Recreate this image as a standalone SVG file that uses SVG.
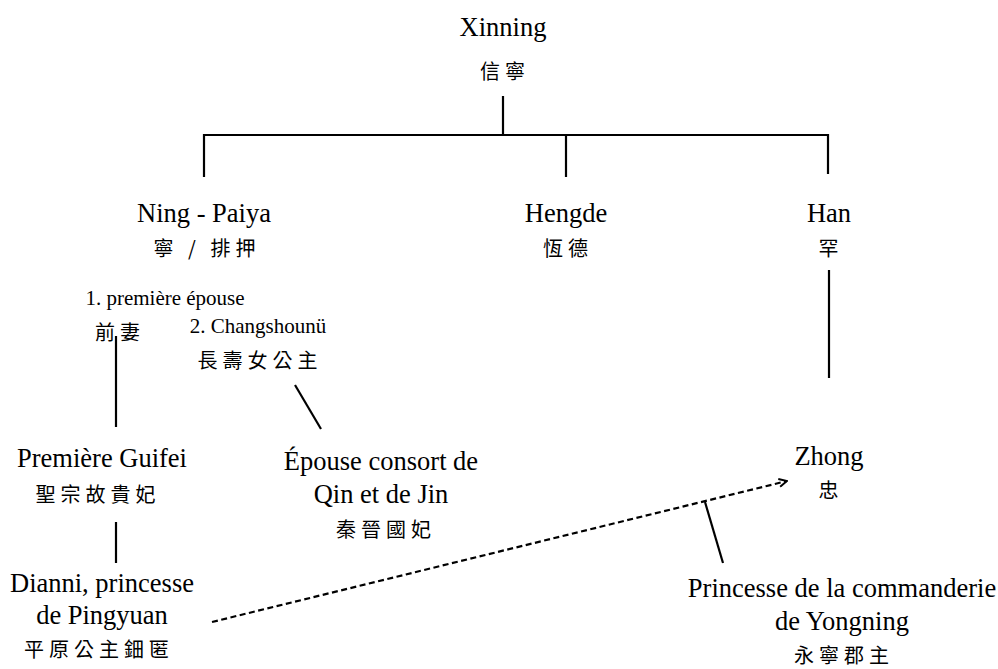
<svg xmlns="http://www.w3.org/2000/svg" width="998" height="669" viewBox="0 0 998 669">
<style>
.l{font-family:"Liberation Serif","Times New Roman",serif;font-size:26.5px;fill:#000;text-anchor:middle}
.s{font-family:"Liberation Serif","Times New Roman",serif;font-size:21px;fill:#000;text-anchor:middle}
.c{font-family:"Noto Sans CJK TC","Noto Sans CJK SC",sans-serif;font-size:20px;fill:#000;text-anchor:middle;letter-spacing:5px}
.ln{stroke:#000;stroke-width:2.2;fill:none}
.dash{stroke:#000;stroke-width:2.2;fill:none;stroke-dasharray:6,3.5}
</style>
<defs>
<marker id="arr" viewBox="0 0 10 10" refX="9" refY="5" markerWidth="10" markerHeight="10" markerUnits="userSpaceOnUse" orient="auto">
<path d="M1,1 L9,5 L1,9" fill="none" stroke="#000" stroke-width="2"/>
</marker>
</defs>
<rect width="998" height="669" fill="#fff"/>
<g id="connectors">
<line class="ln" x1="503" y1="96" x2="503" y2="135"/>
<line class="ln" x1="203" y1="135" x2="829" y2="135"/>
<line class="ln" x1="204" y1="134" x2="204" y2="177"/>
<line class="ln" x1="566" y1="134" x2="566" y2="177"/>
<line class="ln" x1="828" y1="134" x2="828" y2="174"/>
<line class="ln" x1="829" y1="270" x2="829" y2="378"/>
<line class="ln" x1="116" y1="336" x2="116" y2="427"/>
<line class="ln" x1="295" y1="385" x2="321" y2="429"/>
<line class="ln" x1="116" y1="522" x2="116" y2="563"/>
<line class="dash" x1="212" y1="622" x2="787" y2="481" marker-end="url(#arr)"/>
<line class="ln" x1="705" y1="502" x2="723" y2="563"/>
</g>
<g id="xinning"><text class="l" x="503" y="36">Xinning</text><text class="c" x="505" y="79">信寧</text></g>
<g id="ning-paiya"><text class="l" x="204" y="222">Ning - Paiya</text><text class="c" x="207" y="256">寧 / 排押</text></g>
<g id="hengde"><text class="l" x="566" y="222">Hengde</text><text class="c" x="568" y="256">恆德</text></g>
<g id="han"><text class="l" x="829" y="222">Han</text><text class="c" x="831" y="256">罕</text></g>
<g id="premiere-epouse"><text class="s" x="165" y="305">1. première épouse</text><text class="c" x="120" y="340">前妻</text></g>
<g id="changshounu"><text class="s" x="258" y="333">2. Changshounü</text><text class="c" x="260" y="368">長壽女公主</text></g>
<g id="guifei"><text class="l" x="102" y="467">Première Guifei</text><text class="c" x="98" y="502">聖宗故貴妃</text></g>
<g id="dianni"><text class="l" x="102" y="592">Dianni, princesse</text><text class="l" x="102" y="624">de Pingyuan</text><text class="c" x="99" y="657">平原公主鈿匿</text></g>
<g id="epouse-consort"><text class="l" x="381" y="470">Épouse consort de</text><text class="l" x="381" y="503">Qin et de Jin</text><text class="c" x="386" y="537">秦晉國妃</text></g>
<g id="zhong"><text class="l" x="829" y="465">Zhong</text><text class="c" x="831" y="498">忠</text></g>
<g id="yongning"><text class="l" x="842" y="597">Princesse de la commanderie</text><text class="l" x="842" y="630">de Yongning</text><text class="c" x="844" y="663">永寧郡主</text></g>
</svg>
